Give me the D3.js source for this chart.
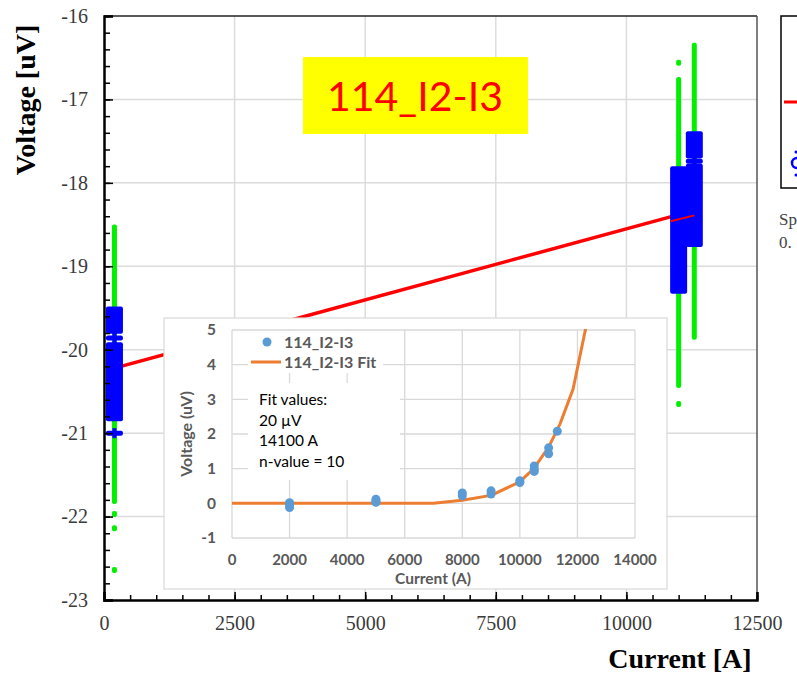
<!DOCTYPE html>
<html>
<head>
<meta charset="utf-8">
<script src="https://cdn.jsdelivr.net/npm/d3@7"></script>
<style>
body { margin: 0; background: #fff; }
</style>
</head>
<body>
<script>
const width = 797;
const height = 676;

// main chart data
const xTicks = [0, 2500, 5000, 7500, 10000, 12500];
const yTicks = [-23, -22, -21, -20, -19, -18, -17, -16];

const greenCurrent = [200, 11000, 11300];
const greenHigh = [-18.5, -16.73, -16.32];
const greenLow = [-21.85, -20.46, -19.88];
const greenDotCurrent = [200, 200, 200, 11000, 11000];
const greenDotVolt = [-21.97, -22.14, -22.64, -16.56, -20.65];

const blueCurrent = [200, 200, 11000, 11300, 11300];
const blueHigh = [-19.5, -19.93, -17.82, -17.4, -17.79];
const blueLow = [-19.79, -20.84, -19.31, -17.69, -18.75];
const blueMarkCurrent = [200, 200, 11300];
const blueMarkVolt = [-19.86, -21.0, -17.74];

const fitCurrent = [200, 11300];
const fitVolt = [-20.22, -18.33];
const fit2Current = [10850, 11300];
const fit2Volt = [-18.46, -18.39];

// inset data
const insetXTicks = [0, 2000, 4000, 6000, 8000, 10000, 12000, 14000];
const insetYTicks = [-1, 0, 1, 2, 3, 4, 5];
const measCurrent = [2000, 2000, 2000, 5000, 5000, 5000, 8000, 8000, 9000, 9000,
  10000, 10000, 10500, 10500, 10500, 11000, 11000, 11300];
const measVolt = [0.02, -0.05, -0.12, 0.12, 0.06, 0.03, 0.3, 0.22, 0.36, 0.27,
  0.65, 0.6, 1.08, 0.98, 0.92, 1.6, 1.43, 2.08];
const curveCurrent = [0, 1000, 2000, 3000, 4000, 5000, 6000, 7000, 8000, 9000,
  10000, 10500, 11000, 11400, 11850, 12300];
const curveVolt = [0, 0, 0, 0, 0, 0, 0, 0, 0.09, 0.23, 0.62, 1.02, 1.62, 2.3, 3.3, 5.1];
const fitText = ["Fit values:", "20 \u00b5V", "14100 A", "n-value = 10"];

const svg = d3.select("body")
  .append("svg")
  .attr("width", width)
  .attr("height", height)
  .style("font-family", "'Liberation Serif', serif");

const x = d3.scaleLinear().domain([0, 12500]).range([104, 757]);
const y = d3.scaleLinear().domain([-23, -16]).range([600, 16]);

// gridlines
svg.append("g").selectAll("line")
  .data(xTicks.slice(1, -1))
  .enter().append("line")
  .attr("x1", d => x(d)).attr("x2", d => x(d))
  .attr("y1", 16).attr("y2", 600)
  .attr("stroke", "#dcdcdc").attr("stroke-width", 1.5);

svg.append("g").selectAll("line")
  .data(yTicks.slice(1, -1))
  .enter().append("line")
  .attr("y1", d => y(d)).attr("y2", d => y(d))
  .attr("x1", 104).attr("x2", 757)
  .attr("stroke", "#dcdcdc").attr("stroke-width", 1.5);

// frame top / right
svg.append("line").attr("x1", 104).attr("x2", 757).attr("y1", 16).attr("y2", 16)
  .attr("stroke", "#222").attr("stroke-width", 1.5);
svg.append("line").attr("x1", 757).attr("x2", 757).attr("y1", 16).attr("y2", 600)
  .attr("stroke", "#555").attr("stroke-width", 1.5);

// green measurements
svg.append("g").selectAll("rect")
  .data(greenCurrent)
  .enter().append("rect")
  .attr("x", d => x(d) - 2.5)
  .attr("y", (d, i) => y(greenHigh[i]))
  .attr("width", 5)
  .attr("height", (d, i) => y(greenLow[i]) - y(greenHigh[i]))
  .attr("rx", 2)
  .attr("fill", "#00f000");

svg.append("g").selectAll("rect")
  .data(greenDotCurrent)
  .enter().append("rect")
  .attr("x", d => x(d) - 2.5)
  .attr("y", (d, i) => y(greenDotVolt[i]) - 3)
  .attr("width", 5)
  .attr("height", 6)
  .attr("rx", 2)
  .attr("fill", "#00f000");

// fit lines
const line = d3.line().x(d => x(d[0])).y(d => y(d[1]));
svg.append("path")
  .datum(fitCurrent.map((c, i) => [c, fitVolt[i]]))
  .attr("fill", "none").attr("stroke", "#ff0000").attr("stroke-width", 3.5)
  .attr("d", line);

// blue measurements
svg.append("g").selectAll("rect")
  .data(blueCurrent)
  .enter().append("rect")
  .attr("x", d => x(d) - 8.5)
  .attr("y", (d, i) => y(blueHigh[i]) - 1.5)
  .attr("width", 17)
  .attr("height", (d, i) => y(blueLow[i]) - y(blueHigh[i]) + 3)
  .attr("rx", 2)
  .attr("fill", "#0000ff");

svg.append("g").selectAll("rect")
  .data(blueMarkCurrent)
  .enter().append("rect")
  .attr("x", d => x(d) - 8.5)
  .attr("y", (d, i) => y(blueMarkVolt[i]) - 2.5)
  .attr("width", 17)
  .attr("height", 5)
  .attr("rx", 2)
  .attr("fill", "#0000ff");

svg.append("g").selectAll("rect")
  .data(blueMarkCurrent)
  .enter().append("rect")
  .attr("x", d => x(d) - 2)
  .attr("y", (d, i) => y(blueMarkVolt[i]) - 5)
  .attr("width", 4)
  .attr("height", 10)
  .attr("fill", "#0000ff");

svg.append("path")
  .datum(fit2Current.map((c, i) => [c, fit2Volt[i]]))
  .attr("fill", "none").attr("stroke", "#ff0000").attr("stroke-width", 2)
  .attr("d", line);

// axes
const yAxis = svg.append("g")
  .attr("transform", "translate(104,0)")
  .call(d3.axisLeft(y).tickValues(yTicks).tickSize(-9).tickPadding(16).tickFormat(d => String(d)));
svg.append("g")
  .attr("transform", "translate(104,0)")
  .call(d3.axisLeft(y).ticks(35).tickSize(-6).tickFormat(""))
  .select(".domain").remove();

const xAxis = svg.append("g")
  .attr("transform", "translate(0,600)")
  .call(d3.axisBottom(x).tickValues(xTicks).tickSize(-8).tickPadding(16).tickFormat(d => String(d)));
svg.append("g")
  .attr("transform", "translate(0,600)")
  .call(d3.axisBottom(x).ticks(25).tickSize(-5).tickFormat(""))
  .select(".domain").remove();

[yAxis, xAxis].forEach(g => {
  g.select(".domain").attr("stroke", "#000").attr("stroke-width", 2.5);
  g.selectAll("text")
    .style("font-family", "'Liberation Serif', serif")
    .style("font-size", "20px")
    .attr("fill", "#3a3a3a");
});
svg.selectAll(".tick line").attr("stroke", "#000").attr("stroke-width", 1.5);

svg.append("text")
  .attr("transform", "translate(35,100) rotate(-90)")
  .attr("text-anchor", "middle")
  .style("font-size", "28px")
  .style("font-weight", "bold")
  .text("Voltage [uV]");

svg.append("text")
  .attr("x", 680).attr("y", 668)
  .attr("text-anchor", "middle")
  .style("font-size", "28px")
  .style("font-weight", "bold")
  .text("Current [A]");

// title box
svg.append("rect")
  .attr("x", 303).attr("y", 57).attr("width", 225).attr("height", 77)
  .attr("fill", "#ffff00");
svg.append("text")
  .attr("x", 415).attr("y", 111)
  .attr("text-anchor", "middle")
  .style("font-family", "Lato, 'Open Sans', sans-serif")
  .style("font-size", "41px")
  .attr("fill", "#ff0000")
  .text("114_I2-I3");

// cut-off legend on the right
svg.append("rect")
  .attr("x", 781).attr("y", 16).attr("width", 40).attr("height", 172)
  .attr("fill", "#fff").attr("stroke", "#000").attr("stroke-width", 1.5);
svg.append("line")
  .attr("x1", 784).attr("x2", 800).attr("y1", 102).attr("y2", 102)
  .attr("stroke", "#ff0000").attr("stroke-width", 3);
svg.append("circle")
  .attr("cx", 797).attr("cy", 163).attr("r", 5)
  .attr("fill", "none").attr("stroke", "#0000ff").attr("stroke-width", 2.5);
svg.append("circle").attr("cx", 796).attr("cy", 152).attr("r", 1.5).attr("fill", "#0000ff");
svg.append("circle").attr("cx", 796).attr("cy", 175).attr("r", 1.5).attr("fill", "#0000ff");
svg.append("text").attr("x", 779).attr("y", 225)
  .style("font-size", "17px").attr("fill", "#444").text("Sp");
svg.append("text").attr("x", 779).attr("y", 248)
  .style("font-size", "17px").attr("fill", "#444").text("0.");

// inset chart
const inset = svg.append("g")
  .style("font-family", "Lato, 'Open Sans', sans-serif");

inset.append("rect")
  .attr("x", 164).attr("y", 318).attr("width", 503).attr("height", 271)
  .attr("fill", "#fff").attr("stroke", "#d9d9d9").attr("stroke-width", 1.2);

const xi = d3.scaleLinear().domain([0, 14000]).range([232, 635]);
const yi = d3.scaleLinear().domain([-1, 5]).range([538, 330]);

inset.append("g").selectAll("line")
  .data(insetXTicks)
  .enter().append("line")
  .attr("x1", d => xi(d)).attr("x2", d => xi(d))
  .attr("y1", yi(5)).attr("y2", yi(-1))
  .attr("stroke", "#d9d9d9").attr("stroke-width", 1.3);

inset.append("g").selectAll("line")
  .data(insetYTicks)
  .enter().append("line")
  .attr("y1", d => yi(d)).attr("y2", d => yi(d))
  .attr("x1", xi(0)).attr("x2", xi(14000))
  .attr("stroke", "#d9d9d9").attr("stroke-width", 1.3);

inset.append("g").selectAll("text")
  .data(insetYTicks)
  .enter().append("text")
  .attr("x", 216).attr("y", d => yi(d))
  .attr("dy", "0.35em")
  .attr("text-anchor", "end")
  .style("font-size", "15.5px").style("font-weight", "bold")
  .attr("fill", "#595959")
  .text(d => d);

inset.append("g").selectAll("text")
  .data(insetXTicks)
  .enter().append("text")
  .attr("x", d => xi(d)).attr("y", 560)
  .attr("dy", "0.35em")
  .attr("text-anchor", "middle")
  .style("font-size", "15px").style("font-weight", "bold")
  .attr("fill", "#595959")
  .text(d => d);

inset.append("text")
  .attr("x", 433).attr("y", 579)
  .attr("dy", "0.35em")
  .attr("text-anchor", "middle")
  .style("font-size", "15.5px").style("font-weight", "bold")
  .attr("fill", "#595959")
  .text("Current (A)");

inset.append("text")
  .attr("transform", "translate(192,434) rotate(-90)")
  .attr("text-anchor", "middle")
  .style("font-size", "16px").style("font-weight", "bold")
  .attr("fill", "#595959")
  .text("Voltage (uV)");

inset.append("clipPath").attr("id", "insetClip")
  .append("rect")
  .attr("x", xi(0)).attr("y", yi(5) - 1)
  .attr("width", xi(14000) - xi(0)).attr("height", yi(-1) - yi(5) + 1);

// legend and fit text boxes (white behind)
inset.append("rect").attr("x", 248).attr("y", 331).attr("width", 135).attr("height", 42).attr("fill", "#fff");
inset.append("rect").attr("x", 248).attr("y", 383).attr("width", 152).attr("height", 97).attr("fill", "#fff");

const lineI = d3.line().x(d => xi(d[0])).y(d => yi(d[1]));
inset.append("path")
  .datum(curveCurrent.map((c, i) => [c, curveVolt[i]]))
  .attr("clip-path", "url(#insetClip)")
  .attr("fill", "none")
  .attr("stroke", "#ed7d31")
  .attr("stroke-width", 3)
  .attr("stroke-linejoin", "round")
  .attr("d", lineI);

inset.append("g").selectAll("circle")
  .data(measCurrent)
  .enter().append("circle")
  .attr("cx", d => xi(d))
  .attr("cy", (d, i) => yi(measVolt[i]))
  .attr("r", 4.5)
  .attr("fill", "#5b9bd5");

inset.append("circle").attr("cx", 267).attr("cy", 342).attr("r", 4.5).attr("fill", "#5b9bd5");
inset.append("text").attr("x", 284).attr("y", 342).attr("dy", "0.35em")
  .style("font-size", "16px").style("font-weight", "bold").attr("fill", "#595959")
  .text("114_I2-I3");
inset.append("line").attr("x1", 251).attr("x2", 281).attr("y1", 362).attr("y2", 362)
  .attr("stroke", "#ed7d31").attr("stroke-width", 3);
inset.append("text").attr("x", 284).attr("y", 362).attr("dy", "0.35em")
  .style("font-size", "16px").style("font-weight", "bold").attr("fill", "#595959")
  .text("114_I2-I3 Fit");

inset.append("g").selectAll("text")
  .data(fitText)
  .enter().append("text")
  .attr("x", 259)
  .attr("y", (d, i) => 400 + i * 20.5)
  .attr("dy", "0.35em")
  .style("font-size", "15.5px")
  .attr("fill", "#000")
  .text(d => d);
</script>
</body>
</html>
